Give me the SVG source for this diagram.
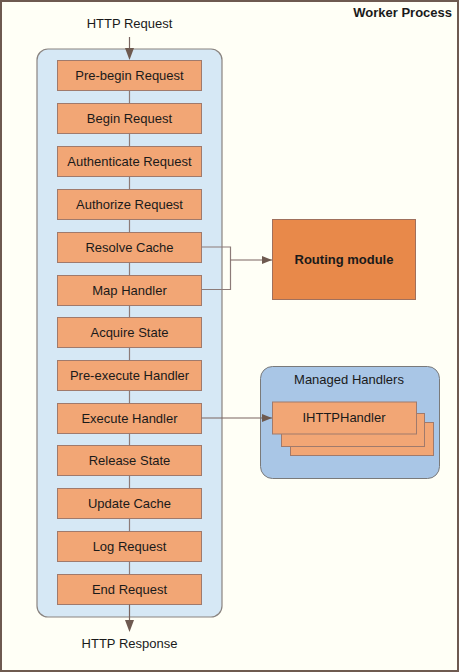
<svg xmlns="http://www.w3.org/2000/svg" width="459" height="672" viewBox="0 0 459 672">
<defs>
<style>
text{font-family:"Liberation Sans",Arial,sans-serif;font-size:13px;fill:#1a1a1a;text-anchor:middle}
.step{fill:#f2a675;stroke:#a07a6c;stroke-width:1}
.conn{fill:none;stroke:#8c7b78;stroke-width:1.2}
.arr{fill:none;stroke:#7a6560;stroke-width:1.2}
</style>
<marker id="ah" viewBox="0 0 10 10" refX="10" refY="5" markerWidth="10" markerHeight="10" markerUnits="userSpaceOnUse" orient="auto">
<path d="M0,1 L10,5 L0,9 Z" fill="#6e5a50"/>
</marker>
</defs>
<g id="worker-process">
<rect x="1" y="1" width="457" height="670" fill="#fffff6" stroke="#6e5a50" stroke-width="2"/>
<text x="452" y="17" style="text-anchor:end;font-weight:bold">Worker Process</text>
</g>
<g id="pipeline">
<rect x="37" y="49" width="185" height="568" rx="11" ry="11" fill="#d6e8f5" stroke="#8a8480" stroke-width="1.2"/>
</g>
<g id="http-request"><text x="129.5" y="28">HTTP Request</text></g>
<g id="http-response"><text x="129.5" y="648">HTTP Response</text></g>
<g id="step-prebegin"><rect class="step" x="57.5" y="60.5" width="144" height="30"/><text x="129.5" y="80">Pre-begin Request</text></g>
<g id="step-begin"><rect class="step" x="57.5" y="103.5" width="144" height="30"/><text x="129.5" y="123">Begin Request</text></g>
<g id="step-authenticate"><rect class="step" x="57.5" y="146.5" width="144" height="30"/><text x="129.5" y="166">Authenticate Request</text></g>
<g id="step-authorize"><rect class="step" x="57.5" y="189.5" width="144" height="30"/><text x="129.5" y="209">Authorize Request</text></g>
<g id="step-resolve-cache"><rect class="step" x="57.5" y="232.5" width="144" height="30"/><text x="129.5" y="252">Resolve Cache</text></g>
<g id="step-map-handler"><rect class="step" x="57.5" y="275.5" width="144" height="30"/><text x="129.5" y="295">Map Handler</text></g>
<g id="step-acquire-state"><rect class="step" x="57.5" y="317.5" width="144" height="30"/><text x="129.5" y="337">Acquire State</text></g>
<g id="step-pre-execute"><rect class="step" x="57.5" y="360.5" width="144" height="30"/><text x="129.5" y="380">Pre-execute Handler</text></g>
<g id="step-execute"><rect class="step" x="57.5" y="403.5" width="144" height="30"/><text x="129.5" y="423">Execute Handler</text></g>
<g id="step-release-state"><rect class="step" x="57.5" y="445.5" width="144" height="30"/><text x="129.5" y="465">Release State</text></g>
<g id="step-update-cache"><rect class="step" x="57.5" y="488.5" width="144" height="30"/><text x="129.5" y="508">Update Cache</text></g>
<g id="step-log"><rect class="step" x="57.5" y="531.5" width="144" height="30"/><text x="129.5" y="551">Log Request</text></g>
<g id="step-end"><rect class="step" x="57.5" y="574.5" width="144" height="30"/><text x="129.5" y="594">End Request</text></g>
<g id="routing-module">
<rect x="272.5" y="219.5" width="143" height="80" fill="#e8894a" stroke="#a0705c" stroke-width="1"/>
<text x="344" y="264" style="font-weight:bold">Routing module</text>
</g>
<g id="managed-handlers">
<rect x="260.5" y="366.5" width="179" height="112" rx="12" ry="12" fill="#a9c6e6" stroke="#7a7a7a" stroke-width="1"/>
<text x="349" y="384">Managed Handlers</text>
<rect class="step" x="290.5" y="422.5" width="143" height="33"/>
<rect class="step" x="281.5" y="413.5" width="143" height="33"/>
<rect class="step" x="272.5" y="402" width="144" height="32"/>
<text x="344" y="422">IHTTPHandler</text>
</g>
<g id="connectors">
<path class="conn" d="M129.5,90.5 V103.5 M129.5,133.5 V146.5 M129.5,176.5 V189.5 M129.5,219.5 V232.5 M129.5,262.5 V275.5 M129.5,305.5 V317.5 M129.5,347.5 V360.5 M129.5,390.5 V403.5 M129.5,433.5 V445.5 M129.5,475.5 V488.5 M129.5,518.5 V531.5 M129.5,561.5 V574.5"/>
<path class="arr" d="M129.5,37 V48"/>
<path d="M125,48 L129.5,60 L134,48 Z" fill="#6e5a50"/>
<path class="arr" d="M129.5,604.5 V620"/>
<path d="M125,620 L129.5,632 L134,620 Z" fill="#6e5a50"/>
<path class="conn" d="M201.5,247 H230.5 V289.5 H201.5"/>
<path class="arr" d="M230.5,260 H272" marker-end="url(#ah)"/>
<path class="arr" d="M201.5,418 H272" marker-end="url(#ah)"/>
</g>
</svg>
